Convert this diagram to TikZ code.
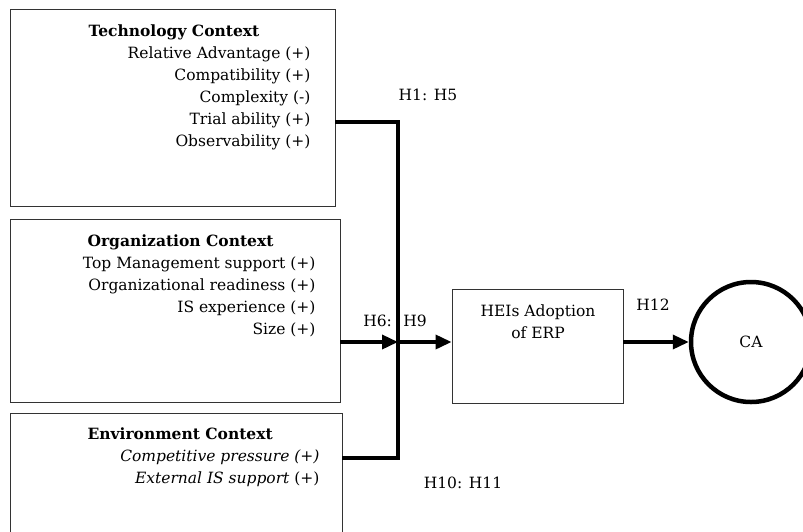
\documentclass[tikz,border=0pt]{standalone}
\usepackage{fontspec}
\setmainfont{DejaVu Serif}
\usepackage{tikz}
\usetikzlibrary{arrows.meta}

\begin{document}
\begin{tikzpicture}[x=1pt,y=-1pt,
    every node/.style={font=\fontsize{15.5}{22}\selectfont},
    box/.style={draw=black!80,line width=0.9pt,inner sep=0pt},
    head/.style={anchor=west,font=\fontsize{15.5}{22}\selectfont\bfseries},
    item/.style={anchor=east},
    link/.style={line width=3.5pt},
    tip/.style={-{Triangle[length=16pt,width=14pt]}}]
  \useasboundingbox (0,0) rectangle (803,531);
  % the three context boxes
  \node[box,minimum width=325pt,minimum height=197pt] (T) at (172.5,107.5) {};
  \node[box,minimum width=330pt,minimum height=183pt] (O) at (175,310.5) {};
  \node[box,minimum width=332pt,minimum height=130pt] (E) at (176,478) {};
  \node[head] (Th) at (85,32) {Technology Context};
  \node[head] (Oh) at (84,242) {Organization Context};
  \node[head] (Eh) at (84,434) {Environment Context};
  \foreach \t [count=\i] in {Relative Advantage (+),Compatibility (+),Complexity (-),Trial ability (+),Observability (+)}
    \node[item] (T\i) at (314,{54+22*(\i-1)}) {\t};
  \foreach \t [count=\i] in {Top Management support (+),Organizational readiness (+),IS experience (+),Size (+)}
    \node[item] (O\i) at (319,{264+22*(\i-1)}) {\t};
  \node[item] (E1) at (323,457) {\textit{Competitive pressure (+)}};
  \node[item] (E2) at (323,479) {\textit{External IS support} (+)};
  % adoption box and outcome
  \node[box,minimum width=171pt,minimum height=114pt] (H) at (537.5,346) {};
  \node[align=center] (Ht) at (538,322) {HEIs Adoption\\of ERP};
  \node[draw,circle,line width=4.5pt,minimum size=120pt,inner sep=0pt] (CA) at (751,342) {CA};
  % connectors
  \coordinate (Tc) at (398,122);
  \coordinate (Ec) at (398,458);
  \coordinate (J) at (398,342);
  \draw[link] (T.east |- Tc) -- (Tc) -- (Ec) -- (E.east |- Ec);
  \draw[link,tip] (O.east |- J) -- (J);
  \draw[link,tip] (J) -- (H.west |- J);
  \draw[link,tip] (H.east |- CA) -- (CA);
  % hypothesis labels
  \node (L1) at (428,95) {H1: H5};
  \node (L2) at (395,321) {H6:~ H9};
  \node (L3) at (463,483) {H10: H11};
  \node (L4) at (653,305) {H12};
\end{tikzpicture}
\end{document}
